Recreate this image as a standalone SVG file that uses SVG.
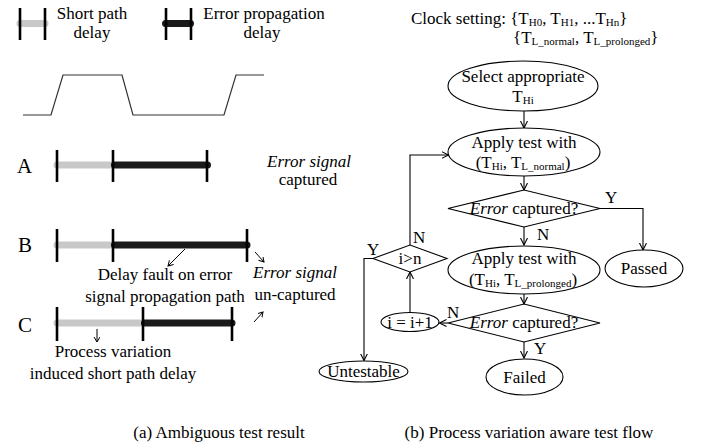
<svg xmlns="http://www.w3.org/2000/svg" width="708" height="443" viewBox="0 0 708 443">
<style>
text{font-family:"Liberation Serif","Times New Roman",serif;font-size:17px;fill:#000}
.big{font-size:21px}
.sub{font-size:11px}
.it{font-style:italic}
.mid{text-anchor:middle}
.tick{stroke:#000;stroke-width:2.6;fill:none}
.gray{stroke:#c8c8c8;stroke-width:7;stroke-linecap:round;fill:none}
.blk{stroke:#1a1a1a;stroke-width:7;stroke-linecap:round;fill:none}
.wave{stroke:#333;stroke-width:1.2;fill:none}
.shape{fill:#fff;stroke:#000;stroke-width:1.1}
.con{fill:none;stroke:#000;stroke-width:1.1}
.scon{fill:none;stroke:#000;stroke-width:1}
</style>
<defs>
<marker id="arr" markerUnits="userSpaceOnUse" markerWidth="10" markerHeight="10" refX="7" refY="4" orient="auto">
<path d="M0,0.5 L7,4 L0,7.5" fill="none" stroke="#000" stroke-width="1.1"/>
</marker>
<marker id="sarr" markerUnits="userSpaceOnUse" markerWidth="8" markerHeight="8" refX="5" refY="3" orient="auto">
<path d="M0,0 L5,3 L0,6" fill="none" stroke="#000" stroke-width="1"/>
</marker>
</defs>

<!-- (a) Ambiguous test result -->
<g id="legend-short">
<line class="gray" x1="20" y1="23.5" x2="45" y2="23.5"/>
<line class="tick" x1="20" y1="8" x2="20" y2="40"/>
<line class="tick" x1="45" y1="8" x2="45" y2="40"/>
<text class="mid" x="92" y="19">Short path</text>
<text class="mid" x="92" y="38">delay</text>
</g>
<g id="legend-error">
<line class="blk" x1="165.5" y1="23.5" x2="190.5" y2="23.5"/>
<line class="tick" x1="166" y1="8" x2="166" y2="40"/>
<line class="tick" x1="191" y1="8" x2="191" y2="40"/>
<text class="mid" x="264" y="19">Error propagation</text>
<text class="mid" x="262" y="38">delay</text>
</g>
<g id="waveform">
<polyline class="wave" points="23,115 51,115 63,75 122,75 133,115 224,115 236,75 264,75"/>
</g>
<g id="row-A">
<text class="big" x="17" y="173">A</text>
<line class="gray" x1="57" y1="165" x2="110" y2="165"/>
<line class="blk" x1="114.5" y1="165" x2="207.5" y2="165"/>
<line class="tick" x1="57" y1="150" x2="57" y2="182"/>
<line class="tick" x1="113" y1="150" x2="113" y2="182"/>
<line class="tick" x1="207" y1="150" x2="207" y2="182"/>
<text class="mid it" x="309" y="167">Error signal</text>
<text class="mid" x="308" y="185">captured</text>
</g>
<g id="row-B">
<text class="big" x="18" y="252">B</text>
<line class="gray" x1="57" y1="245" x2="110" y2="245"/>
<line class="blk" x1="114.5" y1="245" x2="247" y2="245"/>
<line class="tick" x1="57" y1="229" x2="57" y2="262"/>
<line class="tick" x1="113" y1="229" x2="113" y2="262"/>
<line class="tick" x1="247" y1="229" x2="247" y2="262"/>
<text class="mid" x="165" y="280">Delay fault on error</text>
<text class="mid" x="165" y="302">signal propagation path</text>
<text class="mid it" x="295" y="278">Error signal</text>
<text class="mid" x="295" y="300">un-captured</text>
</g>
<g id="row-C">
<text class="big" x="18" y="332">C</text>
<line class="gray" x1="57" y1="323" x2="140" y2="323"/>
<line class="blk" x1="144.5" y1="323" x2="232" y2="323"/>
<line class="tick" x1="57" y1="307" x2="57" y2="341"/>
<line class="tick" x1="143" y1="307" x2="143" y2="341"/>
<line class="tick" x1="232" y1="307" x2="232" y2="341"/>
<text class="mid" x="113" y="357">Process variation</text>
<text class="mid" x="113" y="379">induced short path delay</text>
</g>
<g id="annot-arrows">
<line class="scon" x1="185" y1="249" x2="168" y2="266" marker-end="url(#sarr)"/>
<line class="scon" x1="255" y1="252" x2="264" y2="262" marker-end="url(#sarr)"/>
<line class="scon" x1="254" y1="322" x2="263" y2="312" marker-end="url(#sarr)"/>
<line class="scon" x1="97" y1="329" x2="97" y2="342" marker-end="url(#sarr)"/>
</g>
<text id="caption-a" class="mid" x="219" y="438">(a) Ambiguous test result</text>

<!-- (b) Process variation aware test flow -->
<g id="clock-setting">
<text x="411" y="24">Clock setting: {T<tspan class="sub" dy="2">H0</tspan><tspan dy="-2">, T</tspan><tspan class="sub" dy="2">H1</tspan><tspan dy="-2">, ...T</tspan><tspan class="sub" dy="2">Hn</tspan><tspan dy="-2">}</tspan></text>
<text x="513" y="43">{T<tspan class="sub" dy="2">L_normal</tspan><tspan dy="-2">, T</tspan><tspan class="sub" dy="2">L_prolonged</tspan><tspan dy="-2">}</tspan></text>
</g>
<g id="connectors">
<line class="con" x1="524" y1="111" x2="524" y2="128" marker-end="url(#arr)"/>
<line class="con" x1="524" y1="176" x2="524" y2="190" marker-end="url(#arr)"/>
<line class="con" x1="524" y1="227" x2="524" y2="245" marker-end="url(#arr)"/>
<line class="con" x1="524" y1="294" x2="524" y2="304" marker-end="url(#arr)"/>
<line class="con" x1="524" y1="342" x2="524" y2="358" marker-end="url(#arr)"/>
<polyline class="con" points="600,208.5 643,208.5 643,250" marker-end="url(#arr)"/>
<line class="con" x1="448" y1="323" x2="439.5" y2="323" marker-end="url(#arr)"/>
<line class="con" x1="410" y1="312.5" x2="410" y2="272" marker-end="url(#arr)"/>
<polyline class="con" points="410,245 410,155 448.5,155" marker-end="url(#arr)"/>
<polyline class="con" points="373,258.5 364,258.5 364,360.5" marker-end="url(#arr)"/>
<text x="605" y="203">Y</text>
<text x="537" y="240">N</text>
<text x="413" y="243">N</text>
<text x="367" y="255">Y</text>
<text x="447" y="318">N</text>
<text x="534" y="354">Y</text>
</g>
<g id="select">
<ellipse class="shape" cx="523" cy="86" rx="75" ry="25"/>
<text class="mid" x="523" y="82">Select appropriate</text>
<text class="mid" x="523" y="102">T<tspan class="sub" dy="2">Hi</tspan></text>
</g>
<g id="apply-normal">
<ellipse class="shape" cx="524" cy="152" rx="76" ry="24"/>
<text class="mid" x="524" y="148">Apply test with</text>
<text class="mid" x="523" y="168">(T<tspan class="sub" dy="2">Hi</tspan><tspan dy="-2">, T</tspan><tspan class="sub" dy="2">L_normal</tspan><tspan dy="-2">)</tspan></text>
</g>
<g id="decision-1">
<polygon class="shape" points="448,208.5 524,190 600,208.5 524,227"/>
<text class="mid" x="524" y="214"><tspan class="it">Error</tspan> captured?</text>
</g>
<g id="apply-prolonged">
<ellipse class="shape" cx="524" cy="270" rx="76" ry="24"/>
<text class="mid" x="524" y="264">Apply test with</text>
<text class="mid" x="523" y="285">(T<tspan class="sub" dy="2">Hi</tspan><tspan dy="-2">, T</tspan><tspan class="sub" dy="2">L_prolonged</tspan><tspan dy="-2">)</tspan></text>
</g>
<g id="passed">
<ellipse class="shape" cx="644" cy="268.5" rx="39" ry="18.5"/>
<text class="mid" x="644" y="274">Passed</text>
</g>
<g id="decision-2">
<polygon class="shape" points="448,323 524,304 600,323 524,342"/>
<text class="mid" x="524" y="328"><tspan class="it">Error</tspan> captured?</text>
</g>
<g id="failed">
<ellipse class="shape" cx="524.5" cy="377" rx="38.5" ry="18"/>
<text class="mid" x="524.5" y="383">Failed</text>
</g>
<g id="increment">
<ellipse class="shape" cx="410" cy="322" rx="29" ry="9.5"/>
<text class="mid" x="410" y="328">i = i+1</text>
</g>
<g id="compare">
<polygon class="shape" points="373,258.5 410,245 447,258.5 410,272"/>
<text class="mid" x="410" y="264">i&gt;n</text>
</g>
<g id="untestable">
<ellipse class="shape" cx="363.5" cy="371.5" rx="44.5" ry="10.5"/>
<text class="mid" x="363.5" y="377">Untestable</text>
</g>
<text id="caption-b" class="mid" x="529" y="438">(b) Process variation aware test flow</text>
</svg>
